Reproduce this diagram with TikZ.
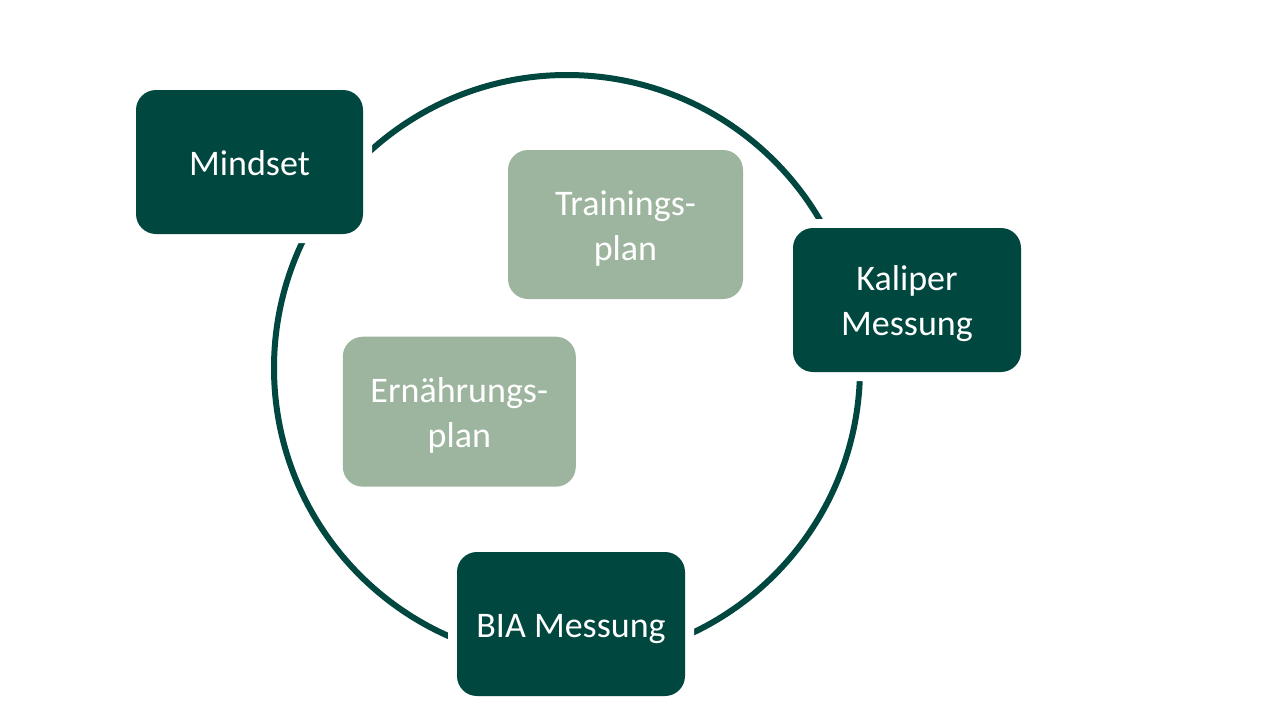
\documentclass[tikz,border=0pt]{standalone}
\usepackage{fontspec}
\setmainfont{Carlito}
\definecolor{darkgreen}{HTML}{00473F}
\definecolor{lightgreen}{HTML}{9DB59F}
\newcommand\boxtext[1]{\raisebox{-4pt}[\height][\depth]{\begin{tabular}{@{}c@{}}#1\end{tabular}}}
\begin{document}
\begin{tikzpicture}[x=1pt,y=-1pt,
  box/.style={rectangle, rounded corners=20pt, inner sep=0pt,
    text=white,
    font=\fontsize{36}{45}\selectfont,
    preaction={draw=white, line width=18pt}},
  darkbox/.style={box, fill=darkgreen},
  lightbox/.style={box, fill=lightgreen}]
\useasboundingbox[fill=white] (0,0) rectangle (1280,720);
\draw[darkgreen, line width=6pt] (567,368) circle[radius=293];
\node[darkbox, minimum width=227pt, minimum height=144pt] (mindset) at (249.5,162) {\boxtext{Mindset}};
\node[darkbox, minimum width=228pt, minimum height=144pt] (kaliper) at (907,300) {\boxtext{Kaliper\\Messung}};
\node[darkbox, minimum width=228pt, minimum height=144pt] (bia) at (571,624) {\boxtext{BIA Messung}};
\node[lightbox, minimum width=235pt, minimum height=149pt] (training) at (625.5,224.5) {\boxtext{Trainings-\\plan}};
\node[lightbox, minimum width=233pt, minimum height=150pt] (ernaehrung) at (459.3,411.7) {\boxtext{Ernährungs-\\plan}};
\end{tikzpicture}
\end{document}
